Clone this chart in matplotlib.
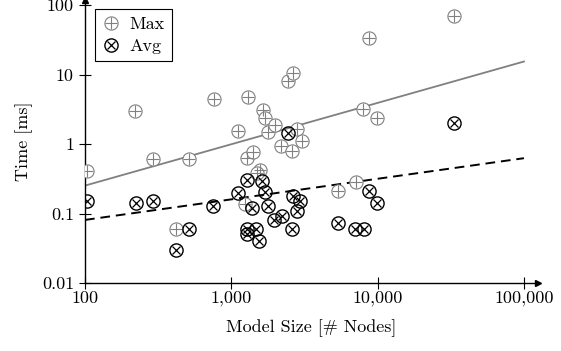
import matplotlib
matplotlib.use('Agg')
import matplotlib.pyplot as plt
import numpy as np
from matplotlib.ticker import FixedLocator, FixedFormatter, NullLocator

plt.rcParams['font.family'] = ['cmr10', 'DejaVu Serif']
plt.rcParams['axes.formatter.use_mathtext'] = True

# Max times per model (node count, ms)
max_nodes = [104, 220, 290, 419, 514, 762, 1117, 1242, 1288, 1294, 1402, 1563, 1500,
             1655, 1702, 1770, 1990, 2190, 2430, 2580, 2630, 2800, 3020,
             5380, 7080, 7980, 8730, 9840, 33300]
max_time = [0.417, 3.0, 0.608, 0.060, 0.608, 4.5, 1.57, 0.138, 0.63, 4.8, 0.78, 0.43, 0.38,
            3.1, 2.37, 1.52, 1.9, 0.95, 8.2, 0.81, 10.7, 1.66, 1.13,
            0.213, 0.29, 3.22, 33.5, 2.37, 70]

# Avg times per model
avg_nodes = [104, 222, 293, 416, 514, 753, 1117, 1273, 1273, 1288, 1390, 1466, 1550,
             1627, 1702, 1790, 1955, 2210, 2430, 2580, 2630, 2800, 2950,
             5380, 7010, 8070, 8730, 9840, 33300]
avg_time = [0.154, 0.142, 0.153, 0.030, 0.060, 0.129, 0.197, 0.060, 0.051, 0.306, 0.122, 0.060, 0.041,
            0.30, 0.208, 0.129, 0.081, 0.094, 1.47, 0.060, 0.18, 0.111, 0.154,
            0.073, 0.060, 0.060, 0.215, 0.145, 2.05]

# trend lines (endpoints)
fit_x = [100, 100000]
fit_max = [0.254, 15.5]
fit_avg = [0.0815, 0.63]

xticks = [100, 1000, 10000, 100000]
xticklabels = ['100', '1,000', '10,000', '100,000']
yticks = [0.01, 0.1, 1, 10, 100]
yticklabels = ['0.01', '0.1', '1', '10', '100']

grey = '#808080'

fig = plt.figure(figsize=(5.61, 3.51), dpi=100)
ax = fig.add_axes([0.1515, 0.193, 0.8075, 0.807])
ax.set_xscale('log')
ax.set_yscale('log')
ax.set_xlim(100, 124800)
ax.set_ylim(0.01, 119)

ax.plot(fit_x, fit_max, color=grey, lw=1.3, zorder=2)
ax.plot(fit_x, fit_avg, color='black', lw=1.4, dashes=(5, 3), zorder=2)

m1, = ax.plot(max_nodes, max_time, ls='none', marker='o', ms=9.5, mfc='white', mec=grey, mew=0.8, zorder=3)
m2, = ax.plot(max_nodes, max_time, ls='none', marker='+', ms=9, mec=grey, mew=0.8, zorder=3)
a1, = ax.plot(avg_nodes, avg_time, ls='none', marker='o', ms=9.5, mfc='none', mec='black', mew=1.0, zorder=4)
a2, = ax.plot(avg_nodes, avg_time, ls='none', marker='x', ms=6, mec='black', mew=0.9, zorder=4)

for s in ['top', 'right']:
    ax.spines[s].set_visible(False)
for s in ['left', 'bottom']:
    ax.spines[s].set_linewidth(1.0)

ax.xaxis.set_major_locator(FixedLocator(xticks))
ax.xaxis.set_major_formatter(FixedFormatter(xticklabels))
ax.yaxis.set_major_locator(FixedLocator(yticks))
ax.yaxis.set_major_formatter(FixedFormatter(yticklabels))
ax.xaxis.set_minor_locator(NullLocator())
ax.yaxis.set_minor_locator(NullLocator())
ax.tick_params(direction='inout', length=8, width=0.8, labelsize=13)
ax.tick_params(axis='x', pad=1.5)
ax.tick_params(axis='y', pad=4)

# axis arrows
ax.plot(1, 0, marker='>', color='black', ms=4, transform=ax.transAxes, clip_on=False)
ax.plot(0, 1, marker='^', color='black', ms=4, transform=ax.transAxes, clip_on=False)

ax.set_xlabel('Model Size [# Nodes]', fontsize=13, labelpad=9)
ax.set_ylabel('Time [ms]', fontsize=13, labelpad=6)

leg = ax.legend([(m1, m2), (a1, a2)], ['Max', 'Avg'], loc='upper left',
                bbox_to_anchor=(0.022, 0.967), fontsize=13, frameon=True, fancybox=False,
                edgecolor='black', framealpha=1, handlelength=1.0, handletextpad=0.5,
                borderpad=0.4, labelspacing=0.35, borderaxespad=0)
leg.get_frame().set_linewidth(0.8)

fig.savefig('out.png', dpi=100)
